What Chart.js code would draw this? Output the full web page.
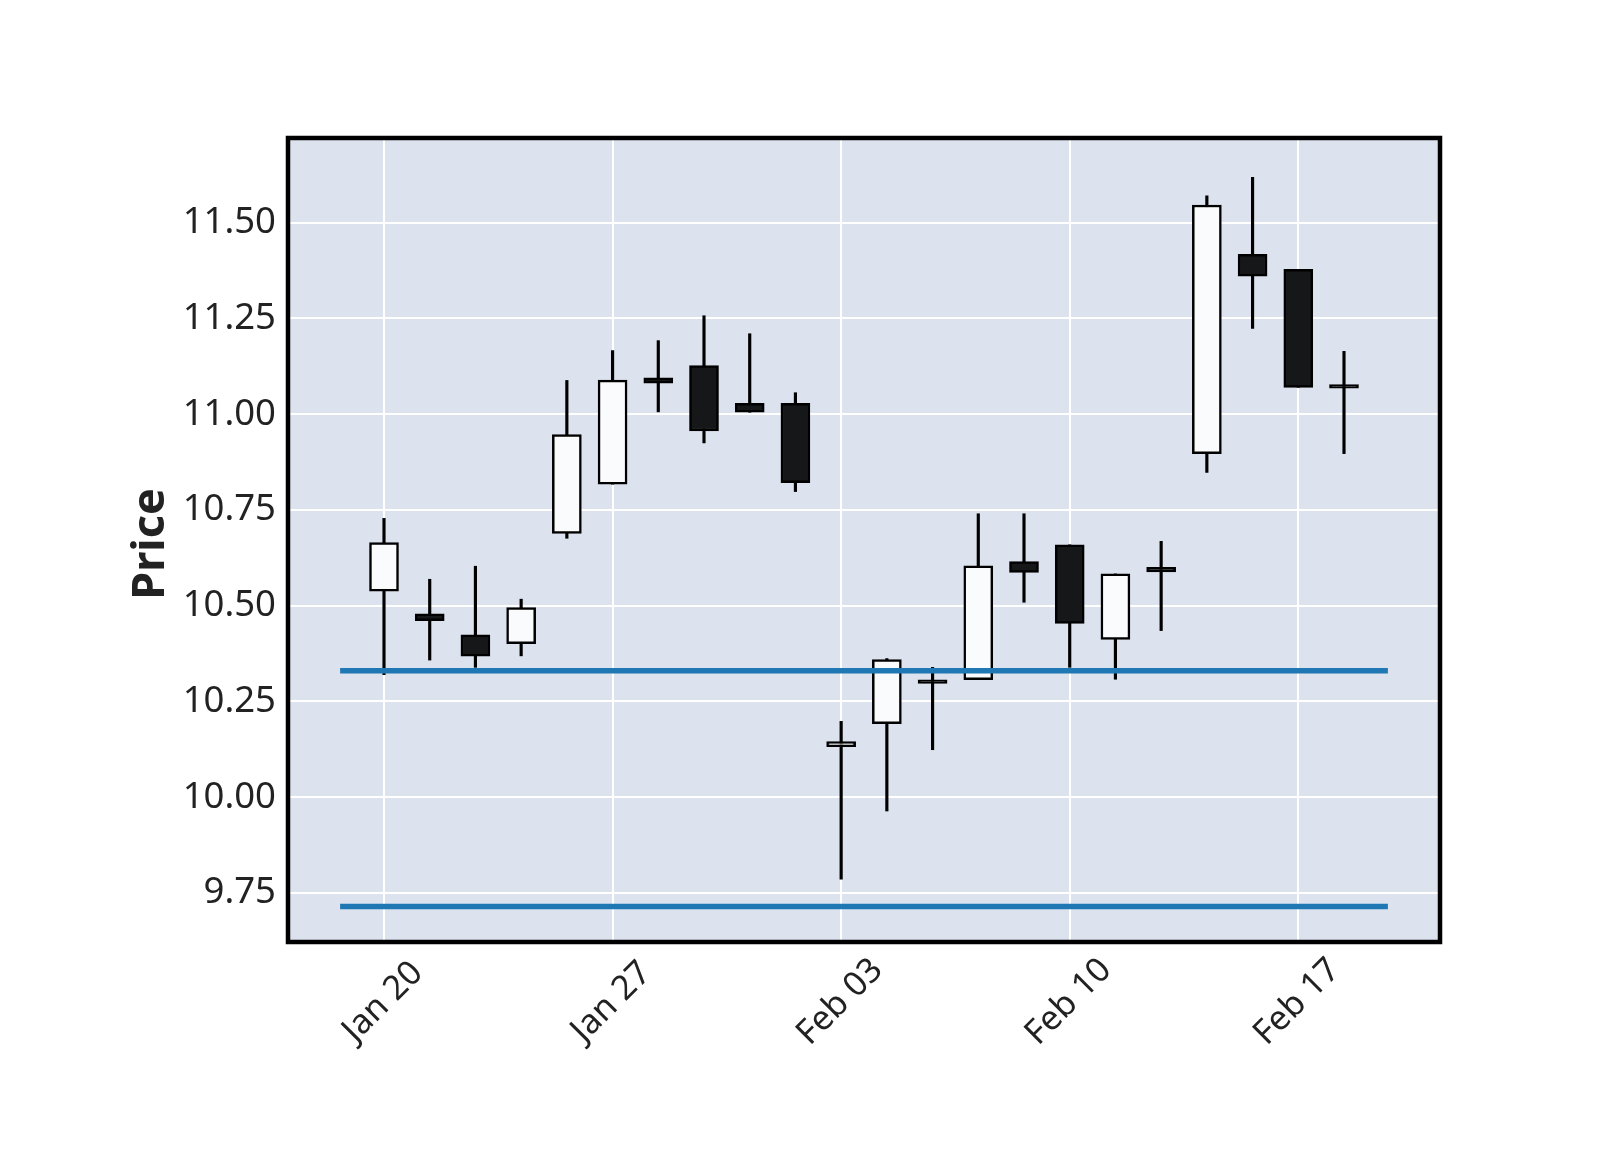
<!DOCTYPE html>
<html lang="en">
<head>
    <meta charset="UTF-8">
    <title>Price candlestick chart</title>
    <script src="https://cdn.jsdelivr.net/npm/chart.js@4.4.1/dist/chart.umd.min.js"></script>
    <style>
        body { margin: 0; background: #fff; }
        #wrap { width: 1600px; height: 1150px; }
    </style>
</head>
<body>
    <div id="wrap">
        <canvas id="price-chart" width="1600" height="1150"></canvas>
    </div>

    <script>
        // trading days, one candle each
        var dates = ['Jan 20', 'Jan 21', 'Jan 22', 'Jan 23', 'Jan 24', 'Jan 27', 'Jan 28', 'Jan 29', 'Jan 30', 'Jan 31',
                     'Feb 03', 'Feb 04', 'Feb 05', 'Feb 06', 'Feb 07', 'Feb 10', 'Feb 11', 'Feb 12', 'Feb 13', 'Feb 14',
                     'Feb 17', 'Feb 18'];
        var opens  = [10.538, 10.479, 10.424, 10.401, 10.689, 10.817, 11.095, 11.127, 11.028, 11.028,
                      10.132, 10.192, 10.300, 10.307, 10.615, 10.659, 10.412, 10.600, 10.897, 11.417,
                      11.378, 11.072];
        var highs  = [10.728, 10.569, 10.603, 10.517, 11.088, 11.166, 11.192, 11.257, 11.210, 11.056,
                      10.198, 10.362, 10.339, 10.740, 10.740, 10.659, 10.583, 10.668, 11.570, 11.618,
                      11.378, 11.164];
        var lows   = [10.320, 10.358, 10.339, 10.369, 10.676, 10.817, 11.006, 10.925, 11.005, 10.798,
                       9.786,  9.964, 10.124, 10.307, 10.509, 10.339, 10.308, 10.435, 10.848, 11.224,
                      11.070, 10.897];
        var closes = [10.665, 10.461, 10.368, 10.495, 10.947, 11.089, 11.081, 10.956, 11.005, 10.821,
                      10.145, 10.359, 10.297, 10.604, 10.587, 10.454, 10.583, 10.588, 11.546, 11.360,
                      11.070, 11.068];

        var hlineLevels = [10.33, 9.715];
        var hlineSpan = [-0.96, 21.96];   // in candle-index units

        var xTickIdx = [0, 5, 10, 15, 20];
        var xTickLabels = ['Jan 20', 'Jan 27', 'Feb 03', 'Feb 10', 'Feb 17'];
        var yTicks = [9.75, 10.00, 10.25, 10.50, 10.75, 11.00, 11.25, 11.50];

        var upColor = '#fafbfd';
        var downColor = '#161719';

        var wickData = [], bodyData = [], bodyColors = [];
        for (var i = 0; i < dates.length; i++) {
            wickData.push({ x: i, y: [lows[i], highs[i]] });
            bodyData.push({ x: i, y: [Math.min(opens[i], closes[i]), Math.max(opens[i], closes[i])] });
            bodyColors.push(closes[i] >= opens[i] ? upColor : downColor);
        }

        var datasets = [{
            type: 'bar',
            data: wickData,
            backgroundColor: '#000',
            borderWidth: 0,
            barThickness: 2.5,
            grouped: false,
            order: 3
        }, {
            type: 'bar',
            data: bodyData,
            backgroundColor: bodyColors,
            borderColor: '#000',
            borderWidth: 2.5,
            borderSkipped: false,
            barThickness: 29,
            minBarLength: 3.5,
            grouped: false,
            order: 2
        }];
        hlineLevels.forEach(function (lvl) {
            datasets.push({
                type: 'line',
                data: [{ x: hlineSpan[0], y: lvl }, { x: hlineSpan[1], y: lvl }],
                borderColor: '#1f77b4',
                borderWidth: 5.5,
                pointRadius: 0,
                order: 1
            });
        });

        // axes background, frame, rotated date labels, y title
        var decor = {
            id: 'decor',
            beforeDraw: function (chart) {
                var a = chart.chartArea, c = chart.ctx;
                c.save();
                c.fillStyle = '#dce3ef';
                c.fillRect(a.left, a.top, a.right - a.left, a.bottom - a.top);
                c.restore();
            },
            afterDraw: function (chart) {
                var a = chart.chartArea, c = chart.ctx, xs = chart.scales.x;
                c.save();
                c.strokeStyle = '#000';
                c.lineWidth = 4.5;
                c.strokeRect(a.left, a.top, a.right - a.left, a.bottom - a.top);

                c.fillStyle = '#222';
                c.font = '34px "Noto Sans"';
                c.textAlign = 'center';
                c.textBaseline = 'middle';
                xTickIdx.forEach(function (idx, k) {
                    c.save();
                    c.translate(xs.getPixelForValue(idx) - 1, a.bottom + 60);
                    c.rotate(-Math.PI / 4);
                    c.fillText(xTickLabels[k], 0, 0);
                    c.restore();
                });

                c.font = 'bold 45px "Noto Sans"';
                c.translate(151, (a.top + a.bottom) / 2 + 4);
                c.rotate(-Math.PI / 2);
                c.fillText('Price', 0, 0);
                c.restore();
            }
        };

        var ctx = document.getElementById('price-chart').getContext('2d');
        var chart = new Chart(ctx, {
            type: 'line',
            data: { datasets: datasets },
            options: {
                responsive: false,
                animation: false,
                layout: { padding: { left: 0, top: 138, right: 160, bottom: 208 } },
                plugins: { legend: { display: false }, tooltip: { enabled: false } },
                scales: {
                    x: {
                        type: 'linear',
                        min: -2.1,
                        max: 23.1,
                        offset: false,
                        afterBuildTicks: function (s) { s.ticks = xTickIdx.map(function (v) { return { value: v }; }); },
                        afterFit: function (s) { s.height = 0; },
                        ticks: { display: false },
                        grid: { color: '#fff', lineWidth: 2, drawTicks: false, offset: false },
                        border: { display: false }
                    },
                    y: {
                        min: 9.622,
                        max: 11.721,
                        afterBuildTicks: function (s) { s.ticks = yTicks.map(function (v) { return { value: v }; }); },
                        afterFit: function (s) { s.width = 288; },
                        ticks: {
                            padding: 12,
                            color: '#222',
                            font: { family: 'Noto Sans', size: 36.5 },
                            callback: function (v) { return v.toFixed(2); }
                        },
                        grid: { color: '#fff', lineWidth: 2, drawTicks: false },
                        border: { display: false }
                    }
                }
            },
            plugins: [decor]
        });
    </script>
</body>
</html>
